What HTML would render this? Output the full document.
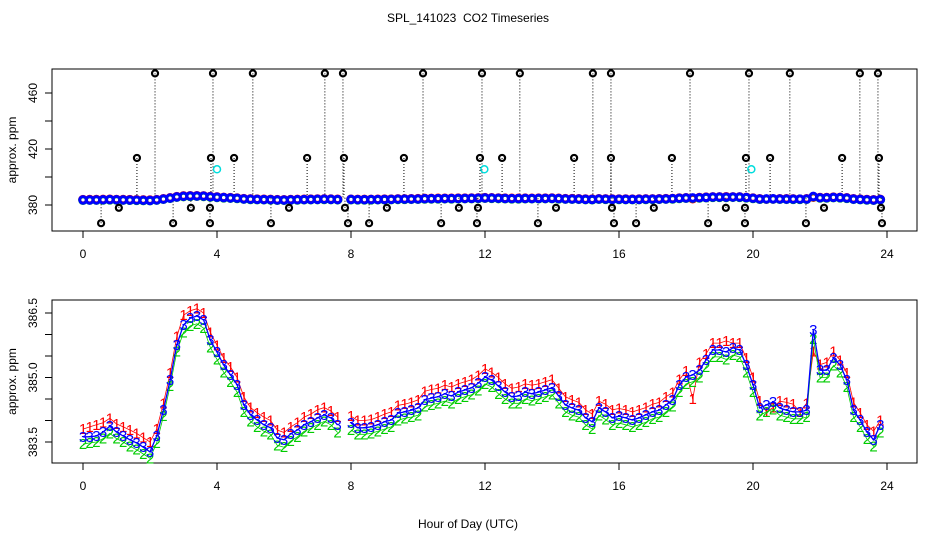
<!DOCTYPE html>
<html><head><meta charset="utf-8"><style>
body{margin:0;background:#fff}
svg{display:block;font-family:"Liberation Sans",sans-serif}
</style></head><body>
<svg id="c" width="936" height="540" xmlns="http://www.w3.org/2000/svg">
<text x="468" y="22" text-anchor="middle" font-size="12" style="white-space:pre">SPL_141023  CO2 Timeseries</text>
<text x="468" y="528" text-anchor="middle" font-size="12">Hour of Day (UTC)</text>
<g id="topPanel"></g>
<g id="botPanel"></g>
</svg>
<script>
const hours=[];for(let i=0;i<120;i++)hours.push(+(i*0.2).toFixed(1));
const s3=[383.62,383.62,383.64,383.73,383.87,383.73,383.64,383.55,383.48,383.38,383.27,383.64,384.24,384.94,385.76,386.22,386.38,386.43,386.34,385.87,385.59,385.29,385.06,384.83,384.36,384.13,384.01,383.90,383.83,383.59,383.55,383.69,383.78,383.90,383.97,384.06,384.13,384.06,383.90,null,383.94,383.83,383.83,383.85,383.90,383.97,384.01,384.17,384.20,384.24,384.29,384.48,384.52,384.55,384.62,384.57,384.66,384.71,384.76,384.87,385.01,384.94,384.80,384.66,384.55,384.57,384.66,384.62,384.66,384.71,384.76,384.57,384.36,384.29,384.24,384.06,383.97,384.29,384.20,384.06,384.10,384.06,384.01,384.06,384.13,384.20,384.24,384.36,384.48,384.83,385.01,385.06,385.17,385.41,385.64,385.64,385.59,385.69,385.64,385.29,384.83,384.29,384.36,384.43,384.29,384.24,384.20,384.20,384.24,386.10,385.17,385.17,385.45,385.29,384.94,384.24,384.01,383.73,383.55,383.90];
const s1=[383.80,383.85,383.90,383.95,384.05,383.92,383.85,383.78,383.70,383.60,383.50,383.80,384.40,385.10,385.95,386.45,386.55,386.60,386.50,386.05,385.75,385.45,385.25,385.00,384.55,384.30,384.18,384.08,384.00,383.78,383.72,383.85,383.95,384.08,384.15,384.25,384.30,384.22,384.08,null,384.10,384.00,384.00,384.02,384.08,384.15,384.20,384.35,384.38,384.42,384.48,384.68,384.72,384.75,384.82,384.78,384.85,384.90,384.95,385.05,385.20,385.12,385.00,384.85,384.75,384.78,384.85,384.82,384.85,384.90,384.95,384.75,384.55,384.48,384.42,384.25,384.15,384.45,384.38,384.25,384.28,384.25,384.20,384.25,384.30,384.38,384.42,384.55,384.65,384.95,385.15,384.50,385.35,385.55,385.80,385.80,385.85,385.80,385.80,385.45,385.00,384.45,384.20,384.30,384.45,384.42,384.38,384.20,384.40,385.60,385.30,385.35,385.60,385.40,385.10,384.42,384.18,383.90,383.75,384.00];
const s2=[383.45,383.48,383.50,383.58,383.70,383.58,383.50,383.40,383.32,383.22,383.12,383.48,384.10,384.80,385.60,386.05,386.20,386.25,386.15,385.70,385.42,385.12,384.90,384.66,384.20,383.98,383.85,383.75,383.68,383.42,383.38,383.52,383.62,383.75,383.82,383.90,383.98,383.90,383.72,null,383.78,383.68,383.68,383.70,383.75,383.80,383.85,384.00,384.05,384.08,384.12,384.32,384.36,384.40,384.45,384.40,384.50,384.55,384.60,384.70,384.85,384.78,384.62,384.50,384.40,384.40,384.50,384.46,384.50,384.55,384.60,384.40,384.20,384.12,384.08,383.90,383.80,384.12,384.02,383.90,383.94,383.90,383.85,383.90,383.96,384.04,384.08,384.20,384.32,384.66,384.85,384.90,385.00,385.25,385.48,385.48,385.42,385.52,385.48,385.12,384.66,384.12,384.20,384.26,384.12,384.08,384.04,384.04,384.08,385.90,385.00,385.00,385.28,385.12,384.78,384.08,383.85,383.57,383.40,383.72];
const outH=[2.15,3.88,5.07,7.22,7.76,10.15,11.91,13.04,15.22,15.76,18.12,19.88,21.1,23.19,23.73,1.61,3.82,4.51,6.69,7.79,9.58,11.85,12.51,14.66,15.76,17.58,19.79,20.51,22.66,23.76,1.07,3.22,3.79,6.15,7.82,9.07,11.22,11.79,14.12,15.79,17.04,19.19,19.76,22.12,23.82,0.54,2.69,3.79,5.61,7.91,8.54,10.69,11.76,13.58,15.85,16.51,18.66,19.76,21.58,23.85];
const outV=[474,474,474,474,474,474,474,474,474,474,474,474,474,474,474,413.6,413.6,413.6,413.6,413.6,413.6,413.6,413.6,413.6,413.6,413.6,413.6,413.6,413.6,413.6,378,378,378,378,378,378,378,378,378,378,378,378,378,378,378,367,367,367,367,367,367,367,367,367,367,367,367,367,367,367];
const cyanH=[4.0,11.98,19.95];
const cyanV=[405.5,405.5,405.5];
const xTicks=[0,4,8,12,16,20,24];
const topYTicks=[380,400,420,440,460];
const topYLabels=["380","420","460"];
const botYTicks=[383.5,384,384.5,385,385.5,386,386.5];
const botYLabels=["383.5","385.0","386.5"];

const NS="http://www.w3.org/2000/svg";
const L=52,R=917;
const X=h=>83+h*(887-83)/24;
const Yt=v=>93+(460-v)*1.4;
const Yb=v=>313+(386.5-v)*43;
function mk(p,tag,a){const e=document.createElementNS(NS,tag);for(const k in a)e.setAttribute(k,a[k]);p.appendChild(e);return e;}

function frame(g,T,B,Y,yt,yl,name){
  let e=mk(g,'rect',{x:L,y:T,width:R-L,height:B-T,fill:'none',stroke:'#000'});
  
  
  xTicks.forEach(t=>{
    e=mk(g,'line',{x1:X(t),x2:X(t),y1:B,y2:B+7,stroke:'#000'});
    
    
    e=mk(g,'text',{x:X(t),y:B+27,'text-anchor':'middle','font-size':12});e.textContent=t;
    
    
  });
  yt.forEach(t=>{
    e=mk(g,'line',{x1:L,x2:L-7,y1:Y(t),y2:Y(t),stroke:'#000'});
    
    
  });
  yl.forEach(t=>{
    const y=Y(+t);
    e=mk(g,'text',{x:0,y:0,'text-anchor':'middle','font-size':12,transform:`translate(37,${y}) rotate(-90)`});e.textContent=t;
    
    
  });
  e=mk(g,'text',{x:0,y:0,'text-anchor':'middle','font-size':12,transform:`translate(16,${(T+B)/2}) rotate(-90)`});e.textContent='approx. ppm';
  
  
}

const topG=document.getElementById('topPanel');
frame(topG,69,231,Yt,topYTicks,topYLabels,'top');
outH.forEach((h,i)=>{
  const x=X(h),y=Yt(outV[i]),yb=Yt(385.5);
  const e=mk(topG,'line',{x1:x,x2:x,y1:y,y2:yb,stroke:'#000','stroke-dasharray':'1,2'});
  
  
});
[[s1,'#f00'],[s2,'#0c0'],[s3,'#00f']].forEach(([s,c])=>{
  s.forEach((v,i)=>{if(v==null)return;
    const e=mk(topG,'circle',{cx:X(hours[i]),cy:Yt(v),r:3.3,fill:'none',stroke:c,'stroke-width':3});
    
    
  });
});
outH.forEach((h,i)=>{
  const e=mk(topG,'circle',{cx:X(h),cy:Yt(outV[i]),r:3,fill:'none',stroke:'#000','stroke-width':2.2});
  
  
});
cyanH.forEach((h,i)=>{
  const e=mk(topG,'circle',{cx:X(h),cy:Yt(cyanV[i]),r:3.5,fill:'none',stroke:'#0dd','stroke-width':1.5});
  
  
});

const botG=document.getElementById('botPanel');
frame(botG,300,463,Yb,botYTicks,botYLabels,'bottom');
[[s1,'#f00','1',0.8],[s2,'#0c0','2',0.8],[s3,'#00f','3',1.3]].forEach(([s,c,ch,w])=>{
  let d='',pen=false;
  s.forEach((v,i)=>{if(v==null){pen=false;return;}d+=(pen?'L':'M')+X(hours[i]).toFixed(1)+','+Yb(v).toFixed(1);pen=true;});
  let e=mk(botG,'path',{d:d,fill:'none',stroke:c,'stroke-width':w});
  
  
  s.forEach((v,i)=>{if(v==null)return;
    e=mk(botG,'text',{x:X(hours[i]),y:Yb(v)+5,'text-anchor':'middle','font-size':15,fill:c});e.textContent=ch;
    
    
  });
});
</script>
</body></html>
